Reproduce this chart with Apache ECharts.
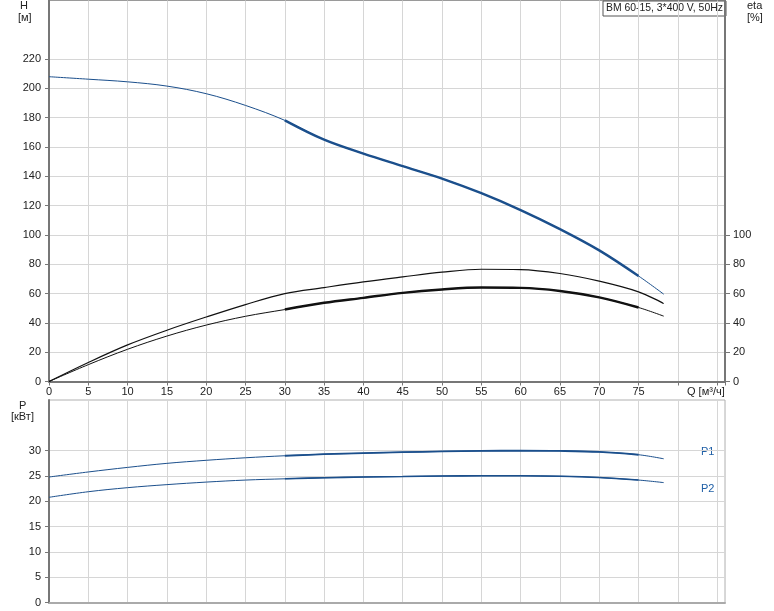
<!DOCTYPE html>
<html>
<head>
<meta charset="utf-8">
<script src="https://cdn.jsdelivr.net/npm/echarts@6/dist/echarts.min.js"></script>
<style>
html,body{margin:0;padding:0;background:#fff;}
#c{width:774px;height:611px;}
</style>
</head>
<body>
<div id="c"></div>
<script>
// ---- Data ----
const Q     = [0, 5, 10, 15, 20, 25, 30, 35, 40, 45, 50, 55, 60, 65, 70, 75, 78.2];
const H     = [208, 206.3, 204.5, 201.6, 196.4, 188.4, 178.2, 165, 155.5, 147, 138.5, 128.5, 117, 104, 89.5, 72, 59.6];
const ETA1  = [0, 13, 25, 35, 44, 52.5, 60, 64.1, 68, 71.4, 74.6, 76.6, 76.4, 73.7, 68.5, 61.2, 53.2];
const ETA2  = [0, 11.5, 22, 31, 38.5, 44.5, 49.1, 53.7, 57.1, 60.5, 62.8, 64.1, 63.9, 61.8, 57.4, 50.5, 44.6];
const P1    = [24.8, 25.8, 26.7, 27.5, 28.1, 28.6, 29.0, 29.3, 29.5, 29.7, 29.85, 29.95, 30.0, 29.95, 29.75, 29.2, 28.4];
const P2    = [20.8, 21.9, 22.7, 23.3, 23.8, 24.2, 24.45, 24.65, 24.8, 24.9, 25.0, 25.05, 25.05, 24.95, 24.7, 24.2, 23.7];
const RANGE = [30, 75];            // operating range drawn thicker
const H_TICKS   = [0, 20, 40, 60, 80, 100, 120, 140, 160, 180, 200, 220];
const ETA_TICKS = [0, 20, 40, 60, 80, 100];
const P_TICKS   = [0, 5, 10, 15, 20, 25, 30];
const TITLE = 'BM 60-15, 3*400 V, 50Hz';

const FONT = "'Liberation Sans', Arial, sans-serif";
const BLUE = '#1b4f8c';

function pairs(ys) { return Q.map((q, i) => [q, ys[i]]); }
function rangePairs(ys) { return Q.map((q, i) => [q, ys[i]]).filter(p => p[0] >= RANGE[0] && p[0] <= RANGE[1]); }

function thin(name, ys, color, xi, yi, w) {
  return { name, type: 'line', xAxisIndex: xi, yAxisIndex: yi, data: pairs(ys), smooth: 0.35,
    symbol: 'none', lineStyle: { width: w || 1, color }, silent: true, z: 3 };
}
function thick(name, ys, color, xi, yi, w) {
  return { name: name + '_op', type: 'line', xAxisIndex: xi, yAxisIndex: yi, data: rangePairs(ys), smooth: 0.35,
    symbol: 'none', lineStyle: { width: w || 2.4, color }, silent: true, z: 4 };
}

const labelStyle = { fontSize: 11, color: '#222', fontFamily: FONT };

const chart = echarts.init(document.getElementById('c'), null, { renderer: 'canvas' });
chart.setOption({
  animation: false,
  backgroundColor: '#fff',
  grid: [
    { left: 49, right: 49, top: 0.5, height: 381, show: true, borderColor: '#9a9a9a', borderWidth: 1, containLabel: false },
    { left: 49, right: 49, top: 400, height: 202.7, show: true, borderColor: '#b0b0b0', borderWidth: 1, containLabel: false }
  ],
  xAxis: [
    { gridIndex: 0, type: 'value', min: 0, max: 86, interval: 5,
      axisLine: { show: true, onZero: false, lineStyle: { color: '#777', width: 2 } },
      axisTick: { show: true, length: 4, lineStyle: { color: '#777' } },
      axisLabel: Object.assign({ margin: 5, formatter: v => (v <= 75 ? String(v) : '') }, labelStyle),
      splitLine: { show: true, lineStyle: { color: '#d6d6d6', width: 1 } } },
    { gridIndex: 1, type: 'value', min: 0, max: 86, interval: 5,
      axisLine: { show: true, onZero: false, lineStyle: { color: '#aaa', width: 2 } },
      axisTick: { show: false }, axisLabel: { show: false },
      splitLine: { show: true, lineStyle: { color: '#d6d6d6', width: 1 } } }
  ],
  yAxis: [
    { gridIndex: 0, type: 'value', min: 0, max: 260, interval: 20, position: 'left',
      axisLine: { show: true, onZero: false, lineStyle: { color: '#777', width: 2 } },
      axisTick: { show: true, length: 4, customValues: H_TICKS, lineStyle: { color: '#777' } },
      axisLabel: Object.assign({ margin: 8, customValues: H_TICKS }, labelStyle),
      splitLine: { show: true, lineStyle: { color: '#d6d6d6', width: 1 } } },
    { gridIndex: 0, type: 'value', min: 0, max: 260, interval: 20, position: 'right',
      axisLine: { show: true, onZero: false, lineStyle: { color: '#777', width: 2 } },
      axisTick: { show: true, length: 5, customValues: ETA_TICKS, lineStyle: { color: '#777' } },
      axisLabel: Object.assign({ margin: 8, customValues: ETA_TICKS }, labelStyle),
      splitLine: { show: false } },
    { gridIndex: 1, type: 'value', min: 0, max: 40, interval: 5, position: 'left',
      axisLine: { show: true, onZero: false, lineStyle: { color: '#777', width: 2 } },
      axisTick: { show: true, length: 4, customValues: P_TICKS, lineStyle: { color: '#777' } },
      axisLabel: Object.assign({ margin: 8, customValues: P_TICKS }, labelStyle),
      splitLine: { show: true, lineStyle: { color: '#d6d6d6', width: 1 } } }
  ],
  series: [
    thin('H', H, BLUE, 0, 0), thick('H', H, BLUE, 0, 0),
    thin('eta1', ETA1, '#111', 0, 1, 1.2),
    thin('eta2', ETA2, '#111', 0, 1), thick('eta2', ETA2, '#111', 0, 1),
    thin('P1', P1, BLUE, 1, 2), thick('P1', P1, BLUE, 1, 2, 1.8),
    thin('P2', P2, BLUE, 1, 2), thick('P2', P2, BLUE, 1, 2, 1.6)
  ],
  graphic: [
    { type: 'text', left: 20, top: 0, style: { text: 'H', fontSize: 11, fill: '#222', fontFamily: FONT } },
    { type: 'text', left: 18, top: 12, style: { text: '[м]', fontSize: 11, fill: '#222', fontFamily: FONT } },
    { type: 'text', left: 747, top: 0, style: { text: 'eta', fontSize: 11, fill: '#222', fontFamily: FONT } },
    { type: 'text', left: 747, top: 12, style: { text: '[%]', fontSize: 11, fill: '#222', fontFamily: FONT } },
    { type: 'text', left: 19, top: 400, style: { text: 'P', fontSize: 11, fill: '#222', fontFamily: FONT } },
    { type: 'text', left: 11, top: 411, style: { text: '[кВт]', fontSize: 11, fill: '#222', fontFamily: FONT } },
    { type: 'text', left: 687, top: 386, style: { text: 'Q [м³/ч]', fontSize: 11, fill: '#222', fontFamily: FONT } },
    { type: 'text', left: 701, top: 446, style: { text: 'P1', fontSize: 11, fill: '#1f5fa6', fontFamily: FONT } },
    { type: 'text', left: 701, top: 483, style: { text: 'P2', fontSize: 11, fill: '#1f5fa6', fontFamily: FONT } },
    { type: 'group', left: 602.5, top: 0.5, z: 20, children: [
      { type: 'rect', shape: { x: 0, y: 0, width: 123, height: 15 }, style: { fill: '#fff', stroke: '#555', lineWidth: 1 } },
      { type: 'text', x: 3, y: 2, style: { text: TITLE, fontSize: 10.4, fill: '#222', fontFamily: FONT } }
    ] }
  ]
});
</script>
</body>
</html>
